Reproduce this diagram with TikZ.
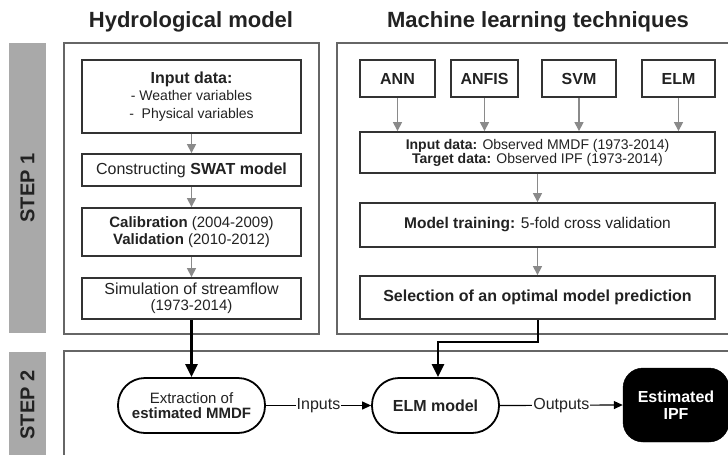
\documentclass[tikz,border=0pt]{standalone}
\usepackage{fontspec}
\setmainfont{Liberation Sans}
\usetikzlibrary{arrows.meta,positioning}

\definecolor{ink}{HTML}{222222}
\definecolor{boxline}{HTML}{333333}
\definecolor{frameline}{HTML}{666666}
\definecolor{stepgray}{HTML}{A9A9A9}
\definecolor{thinarrow}{HTML}{8A8A8A}

\newcommand{\fs}[1]{\fontsize{#1pt}{\dimexpr #1pt*23/20\relax}\selectfont}

\tikzset{
  x=1pt, y=-1pt,
  frame/.style={draw=frameline, line width=1.4pt},
  stepbar/.style={fill=stepgray, draw=none},
  steplabel/.style={rotate=90, font=\fs{20}\bfseries, text=ink},
  title/.style={font=\fs{22}\bfseries, text=ink},
  stagebox/.style={draw=boxline, line width=1.8pt, fill=white, align=center,
    text=ink, inner sep=2pt, font=\fs{16}},
  stadium/.style={draw=black, line width=1.8pt, fill=white, rounded corners=27pt,
    align=center, text=ink, inner sep=2pt, font=\fs{16}},
  resultbox/.style={draw=black, fill=black, rounded corners=20pt, align=center,
    text=white, font=\fs{16}\bfseries, inner sep=2pt},
  grayarrow/.style={draw=thinarrow, line width=1.2pt,
    -{Triangle[length=9pt,width=9pt]}, color=thinarrow},
  heavyarrow/.style={draw=black, line width=2.6pt,
    -{Triangle[length=13pt,width=12pt]}},
  flowarrow/.style={draw=black, line width=1.2pt,
    -{Triangle[length=9pt,width=8pt]}},
  flowlabel/.style={fill=white, inner sep=1pt, font=\fs{16}, text=ink}
}

\begin{document}
\begin{tikzpicture}
  \useasboundingbox (0,0) rectangle (728,455);
  \clip (0,0) rectangle (728,455);
  \fill[white] (0,0) rectangle (728,455);

  % column titles
  \node[title] (thydro) at (191,22) {Hydrological model};
  \node[title] (tml) at (538,22) {Machine learning techniques};

  % step bars
  \fill[stepbar] (9,43) rectangle (46,333);
  \fill[stepbar] (9,352) rectangle (46,470);
  \node[steplabel] (s1) at (27.5,188) {STEP 1};
  \node[steplabel] (s2) at (27.5,405) {STEP 2};

  % framing panels
  \draw[frame] (64,43) rectangle (319,334);
  \draw[frame] (337,43) rectangle (745,334);
  \draw[frame] (64,351) rectangle (745,475);

  % hydrological model chain
  \node[stagebox, minimum width=219pt, minimum height=73pt] (inleft) at (191.5,96.5)
    {\textbf{Input data:}\\[-1pt]
     {\fs{14}- Weather variables}\\[-1pt]
     {\fs{14}-\ \ Physical variables}};
  \node[stagebox, minimum width=219pt, minimum height=32pt] (swat) at (191.5,170)
    {Constructing \textbf{SWAT model}};
  \node[stagebox, minimum width=219pt, minimum height=48pt, font=\fs{15}] (calib) at (191.5,232)
    {\textbf{Calibration} (2004-2009)\\[-1pt]\textbf{Validation} (2010-2012)};
  \node[stagebox, minimum width=219pt, minimum height=41pt] (sim) at (191.5,298.5)
    {Simulation of streamflow\\[-2pt]{\fs{15}(1973-2014)}};

  \draw[grayarrow] (inleft) -- (swat);
  \draw[grayarrow] (swat) -- (calib);
  \draw[grayarrow] (calib) -- (sim);

  % machine learning chain
  \node[stagebox, minimum width=75pt, minimum height=37pt, font=\fs{16}\bfseries] (ann) at (397.5,78.5) {ANN};
  \node[stagebox, minimum width=67pt, minimum height=37pt, font=\fs{16}\bfseries] (anfis) at (484.5,78.5) {ANFIS};
  \node[stagebox, minimum width=74pt, minimum height=37pt, font=\fs{16}\bfseries] (svm) at (579,78.5) {SVM};
  \node[stagebox, minimum width=73pt, minimum height=37pt, font=\fs{16}\bfseries] (elm) at (678.5,78.5) {ELM};

  \node[stagebox, minimum width=355pt, minimum height=41pt, font=\fs{14}] (inright) at (537.5,152.5)
    {\textbf{Input data:} Observed MMDF (1973-2014)\\[-2pt]\textbf{Target data:} Observed IPF (1973-2014)};
  \node[stagebox, minimum width=355pt, minimum height=44pt, font=\fs{15.5}] (train) at (537.5,225)
    {\textbf{Model training:} 5-fold cross validation};
  \node[stagebox, minimum width=355pt, minimum height=43pt, font=\fs{16}\bfseries] (select) at (537.5,297.5)
    {Selection of an optimal model prediction};

  \foreach \m in {ann,anfis,svm,elm}
    \draw[grayarrow] (\m.south) -- (\m.south |- inright.north);
  \draw[grayarrow] (inright) -- (train);
  \draw[grayarrow] (train) -- (select);

  % step 2 flow
  \node[stadium, minimum width=147pt, minimum height=55pt, font=\fs{15}] (extract) at (191.5,405.5)
    {Extraction of\\[-2pt]\textbf{estimated MMDF}};
  \node[stadium, minimum width=127pt, minimum height=55pt, font=\fs{16}\bfseries] (elmmodel) at (435.5,405.5)
    {ELM model};
  \node[resultbox, minimum width=106pt, minimum height=74pt] (ipf) at (676,405)
    {Estimated\\[-2pt]IPF};

  \draw[heavyarrow] (sim.south) -- (extract.north);
  \coordinate (bendA) at (538,342);
  \coordinate (bendB) at (438,342);
  \draw[heavyarrow, line width=2.4pt] (select.south -| bendA) -- (bendA) -- (bendB) -- (bendB |- elmmodel.north);

  \draw[flowarrow] (extract.east) -- node[flowlabel] {Inputs} (elmmodel.west);
  \draw[flowarrow] (elmmodel.east) -- node[flowlabel] {Outputs} (ipf.west);
\end{tikzpicture}
\end{document}
